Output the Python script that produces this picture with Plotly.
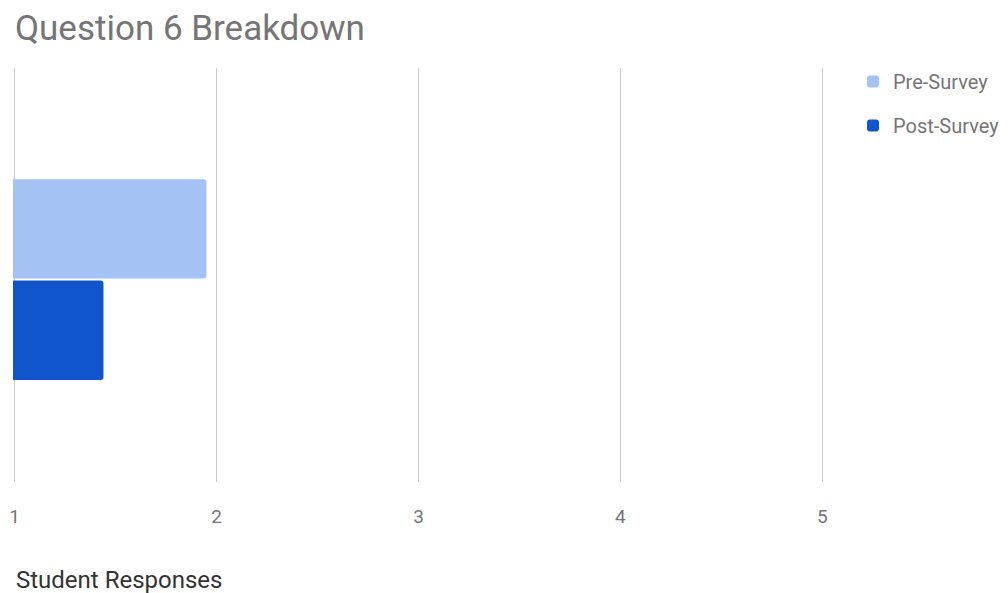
import plotly.graph_objects as go

categories = ["Question 6"]
series_names = ["Pre-Survey", "Post-Survey"]
pre_values = [1.95]
post_values = [1.44]
x_ticks = [1, 2, 3, 4, 5]
colors = ["#a4c2f4", "#1155cc"]

W, H = 1000, 585  # page body adds an 8px margin

fig = go.Figure()
for name, vals, col, grp in zip(series_names, [pre_values, post_values], colors, ["a", "b"]):
    fig.add_trace(go.Bar(
        y=categories, x=vals, name=name, orientation="h",
        marker=dict(color=col, line=dict(width=0)),
        legendgroup=grp,
    ))

fig.update_layout(
    width=W, height=H,
    paper_bgcolor="white", plot_bgcolor="white",
    margin=dict(l=5, r=184, t=60, b=111, autoexpand=False),
    font=dict(family="Roboto", color="#757575"),
    title=dict(text="Question 6 Breakdown", x=7/W, xanchor="left", xref="container",
               y=1-20/H, yanchor="middle", yref="container",
               font=dict(size=35, color="#757575", family="Roboto")),
    barmode="group", bargap=0.51, bargroupgap=0.02, barcornerradius=3,
    legend=dict(x=(845-5)/811, xanchor="left", y=1+6/414, yanchor="top",
                font=dict(size=20, color="#757575"),
                tracegroupgap=15, traceorder="grouped", borderwidth=0,
                bgcolor="rgba(0,0,0,0)"),
    showlegend=True,
)
fig.update_xaxes(range=[0.992, 5.008], tickvals=x_ticks, ticktext=[str(v) for v in x_ticks],
                 showgrid=True, gridcolor="#cccccc", gridwidth=1,
                 zeroline=False, showline=False, automargin=False,
                 tickfont=dict(size=19, color="#757575"), ticklabelstandoff=21)
fig.update_yaxes(range=[0.489, -0.511], showticklabels=False, showgrid=False,
                 zeroline=False, showline=False, automargin=False)
fig.add_annotation(text="Student Responses", xref="paper", yref="paper",
                   x=1/811, xanchor="left", y=-98/414, yanchor="middle",
                   showarrow=False, font=dict(size=24, color="#333333", family="Roboto"))

fig.write_html("out.html")
